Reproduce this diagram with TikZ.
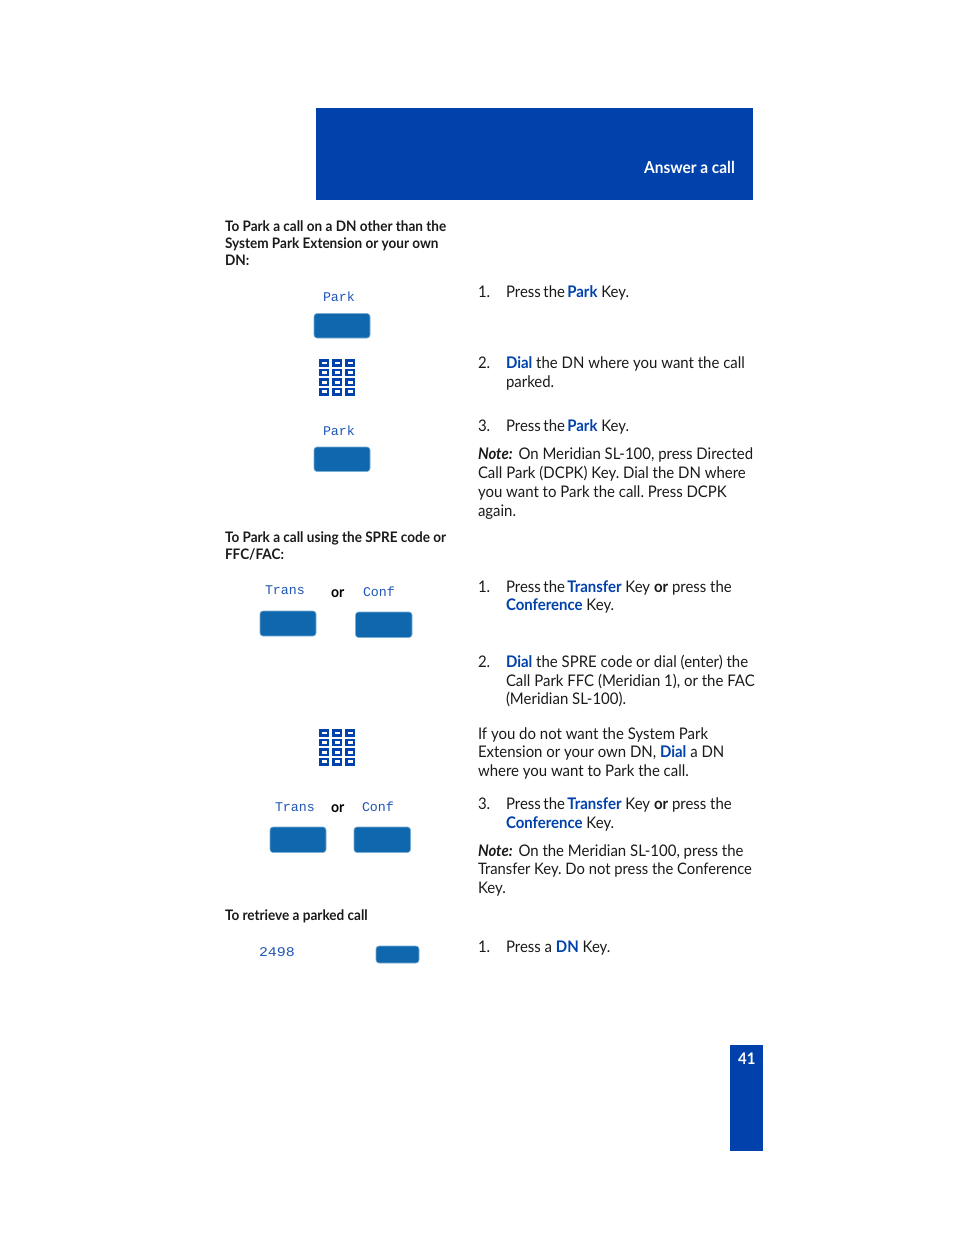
\documentclass[tikz,border=0pt]{standalone}
\usepackage{fontspec}
\setmainfont[FakeStretch=0.935]{Lato}
\newfontfamily\lcd{Liberation Mono}
\newfontfamily\lcdnum[FakeStretch=1.12]{Liberation Mono}
\definecolor{navy}{HTML}{0041AC}
\definecolor{keyblue}{HTML}{0F68AE}
\definecolor{lcdblue}{HTML}{1F55B5}
\definecolor{txt}{HTML}{1A1A1A}
\newcommand{\kw}[1]{\textcolor{navy}{\textbf{#1}}}
\newcommand{\pressthe}{Press\hspace{-1.2pt} the\hspace{-1.6pt}}
\newcommand{\notelabel}{\textbf{\textit{Note:}}\hspace{2pt}}
\newcommand{\padkeys}[2]{%
  \foreach \r in {0,1,2,3}{\foreach \c in {0,1,2}{
    \draw[navy,line width=2.4pt] ({#1+1.4+\c*13},{#2+1.4+\r*9.6}) rectangle ++(7.8,5.2);}}}
\begin{document}
\begin{tikzpicture}[x=1pt,y=-1pt,
  body/.style={anchor=base west,inner sep=0,outer sep=0,text=txt,font=\frenchspacing\fontsize{16}{19}\selectfont},
  head/.style={anchor=base west,inner sep=0,outer sep=0,text=txt,font=\frenchspacing\fontsize{14.5}{18}\selectfont\bfseries},
  lcdlabel/.style={anchor=base west,inner sep=0,outer sep=0,text=lcdblue,font=\fontsize{13.3}{14}\lcd\selectfont},
  lcdnumber/.style={anchor=base west,inner sep=0,outer sep=0,text=lcdblue,font=\fontsize{13.3}{14}\lcdnum\selectfont},
  orlabel/.style={anchor=base west,inner sep=0,outer sep=0,text=black,font=\fontsize{15}{18}\selectfont\bfseries},
  softkey/.style={fill=keyblue,draw=keyblue!55,line width=.6pt,rounded corners=3pt}]
\useasboundingbox (0,0) rectangle (954,1235);
\fill[navy] (316,108) rectangle (753,200);
\node[anchor=base east,inner sep=0,text=white,font=\fontsize{16.5}{19}\selectfont\bfseries] (title) at (735,173) {Answer a call};
\fill[navy] (730,1045) rectangle (763,1151);
\node[anchor=base west,inner sep=0,text=white,font=\fontsize{16}{19}\selectfont\bfseries] (pg) at (738,1064) {41};

\node[head] (h1a) at (225,231) {To Park a call on a DN other than the};
\node[head] (h1b) at (225,248) {System Park Extension or your own};
\node[head] (h1c) at (225,265) {DN:};
\node[head] (h2a) at (225,542) {To Park a call using the SPRE code or};
\node[head] (h2b) at (225,559) {FFC/FAC:};
\node[head] (h3) at (225,920) {To retrieve a parked call};

\node[lcdlabel] (l1) at (323,301) {Park};
\fill[softkey] (314,313.5) rectangle (370,338);
\padkeys{319}{359}
\node[lcdlabel] (l2) at (323,435) {Park};
\fill[softkey] (314,447) rectangle (370,471.5);

\node[lcdlabel] (l3) at (265,594) {Trans};
\node[orlabel] (o1) at (331,597) {or};
\node[lcdlabel] (l4) at (363,596) {Conf};
\fill[softkey] (260,611) rectangle (316,636);
\fill[softkey] (355.5,612) rectangle (412,637.5);
\padkeys{319}{729}
\node[lcdlabel] (l5) at (275,811) {Trans};
\node[orlabel] (o2) at (331,812) {or};
\node[lcdlabel] (l6) at (362,811) {Conf};
\fill[softkey] (270,827) rectangle (326,852.5);
\fill[softkey] (354,827) rectangle (410.5,852.5);
\node[lcdnumber] (l7) at (259,956) {2498};
\fill[softkey] (376,946) rectangle (419,963);

\node[body] at (478,297) {1.};
\node[body] at (506,297) {\pressthe{} \kw{Park} Key.};
\node[body] at (478,368) {2.};
\node[body] at (506,368) {\kw{Dial} the DN where you want the call};
\node[body] at (506,387) {parked.};
\node[body] at (478,431) {3.};
\node[body] at (506,431) {\pressthe{} \kw{Park} Key.};
\node[body] at (478,459) {\notelabel{} On Meridian SL-100, press Directed};
\node[body] at (478,478) {Call Park (DCPK) Key. Dial the DN where};
\node[body] at (478,497) {you want to Park the call. Press DCPK};
\node[body] at (478,516) {again.};
\node[body] at (478,592) {1.};
\node[body] at (506,592) {\pressthe{} \kw{Transfer} Key \textbf{or} press the};
\node[body] at (506,610) {\kw{Conference} Key.};
\node[body] at (478,667) {2.};
\node[body] at (506,667) {\kw{Dial} the SPRE code or dial (enter) the};
\node[body] at (506,686) {Call Park FFC (Meridian 1), or the FAC};
\node[body] at (506,704) {(Meridian SL-100).};
\node[body] at (478,739) {If you do not want the System Park};
\node[body] at (478,757) {Extension or your own DN, \kw{Dial} a DN};
\node[body] at (478,776) {where you want to Park the call.};
\node[body] at (478,809) {3.};
\node[body] at (506,809) {\pressthe{} \kw{Transfer} Key \textbf{or} press the};
\node[body] at (506,828) {\kw{Conference} Key.};
\node[body] at (478,856) {\notelabel{} On the Meridian SL-100, press the};
\node[body,font=\frenchspacing\fontsize{15.8}{19}\selectfont] at (478,874) {Transfer Key. Do not press the Conference};
\node[body] at (478,893) {Key.};
\node[body] at (478,952) {1.};
\node[body] at (506,952) {Press a \kw{DN} Key.};
\end{tikzpicture}
\end{document}
